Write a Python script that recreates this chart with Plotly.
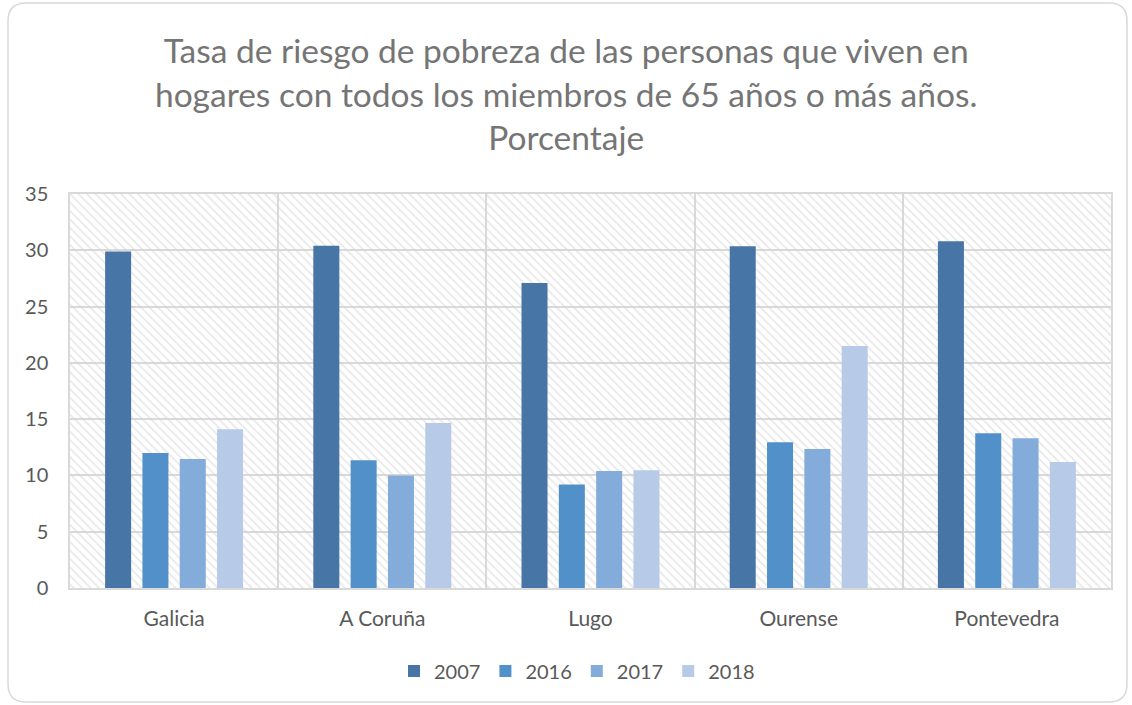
import plotly.graph_objects as go

categories = ["Galicia", "A Coruña", "Lugo", "Ourense", "Pontevedra"]
years = ["2007", "2016", "2017", "2018"]
v2007 = [29.9, 30.4, 27.1, 30.35, 30.8]
v2016 = [12.0, 11.35, 9.2, 12.95, 13.75]
v2017 = [11.45, 10.0, 10.4, 12.35, 13.3]
v2018 = [14.1, 14.65, 10.45, 21.5, 11.2]
series = [v2007, v2016, v2017, v2018]
colors = ["#4775a6", "#5290c9", "#84acdb", "#b7cbe8"]
y_ticks = [0, 5, 10, 15, 20, 25, 30, 35]
title_text = ("Tasa de riesgo de pobreza de las personas que viven en<br>"
              "hogares con todos los miembros de 65 años o más años.<br>Porcentaje")

W, H = 1132, 705
ml, mr, mt, mb = 70, 21, 194, 117
font = "Lato"
grey = "#595959"


def px2paper(px, py):
    pw = W - ml - mr
    ph = H - mt - mb
    return (px - ml) / pw, 1 - (py - mt) / ph


fig = go.Figure()

# hatched plot-area background (base subplot, drawn beneath the bars)
fig.add_trace(go.Bar(
    x=[0.5], y=[max(y_ticks)], width=[1], xaxis="x", yaxis="y",
    marker=dict(color="rgba(0,0,0,0)", line=dict(width=0),
                pattern=dict(shape="\\", fgcolor="#d2d2d2", bgcolor="rgba(0,0,0,0)",
                             size=6, solidity=0.3)),
    showlegend=False, hoverinfo="skip"))

for yr, vals, c in zip(years, series, colors):
    fig.add_trace(go.Bar(name=yr, x=categories, y=vals, xaxis="x2", yaxis="y",
                         marker=dict(color=c, line=dict(width=0))))

# rounded outer border
x0, y0, x1, y1, r = 8, 3, 1127, 702, 18


def P(x, y):
    a, b = px2paper(x, y)
    return f"{a:.5f},{b:.5f}"


path = (f"M {P(x0+r,y0)} L {P(x1-r,y0)} Q {P(x1,y0)} {P(x1,y0+r)} "
        f"L {P(x1,y1-r)} Q {P(x1,y1)} {P(x1-r,y1)} L {P(x0+r,y1)} "
        f"Q {P(x0,y1)} {P(x0,y1-r)} L {P(x0,y0+r)} Q {P(x0,y0)} {P(x0+r,y0)} Z")
fig.add_shape(type="path", path=path, xref="paper", yref="paper",
              line=dict(color="#d9d9d9", width=1.5), layer="below")

tx, ty = px2paper(566, 93)
fig.add_annotation(text=title_text, x=tx, y=ty, xref="paper", yref="paper",
                   xanchor="center", yanchor="middle", showarrow=False, align="center",
                   font=dict(family=font, size=33.5, color="#757575"))

lx, ly = px2paper(577, 671)
fig.update_layout(
    width=W, height=H,
    margin=dict(l=ml, r=mr, t=mt, b=mb),
    paper_bgcolor="white", plot_bgcolor="white",
    barmode="group", bargap=0.283, bargroupgap=0.303,
    font=dict(family=font, color=grey),
    xaxis=dict(range=[0, 1], visible=False, showgrid=False, zeroline=False),
    xaxis2=dict(type="category", overlaying="x", anchor="y", side="bottom",
                tickson="boundaries", showgrid=True, gridcolor="#d9d9d9", gridwidth=1.5,
                showline=True, linecolor="#d9d9d9", linewidth=1.5, mirror=True,
                ticks="", tickfont=dict(size=21, color=grey), ticklabelstandoff=11),
    yaxis=dict(range=[0, 35], tickvals=y_ticks, showgrid=True, gridcolor="#d9d9d9", gridwidth=1.5,
               showline=True, linecolor="#d9d9d9", linewidth=1.5, mirror=True, zeroline=False,
               ticks="", tickfont=dict(size=20, color=grey), ticklabelstandoff=16),
    legend=dict(orientation="h", x=lx, xanchor="center", y=ly, yanchor="middle",
                font=dict(size=20, color=grey), traceorder="normal", itemwidth=30),
)

fig.write_html("out.html", config={"displayModeBar": False},
               post_script="document.body.style.margin='0';")
